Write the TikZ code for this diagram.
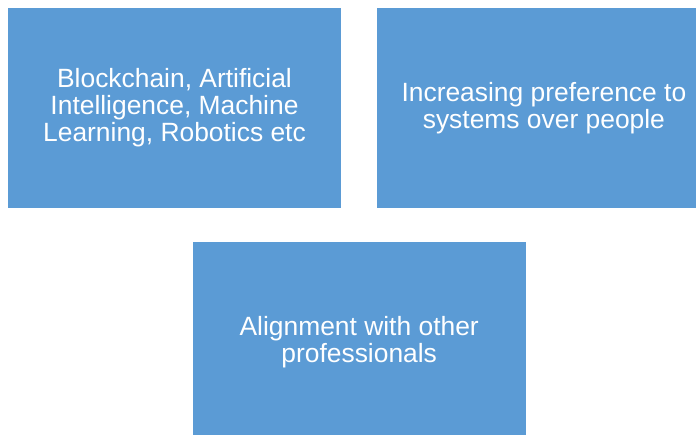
\documentclass[tikz,border=0pt]{standalone}
\usepackage{fontspec}
\setmainfont{Liberation Sans}
\usetikzlibrary{positioning,calc}
\definecolor{boxblue}{HTML}{5B9BD5}
\tikzstyle{block} = [rectangle, fill=boxblue, text=white, text centered, align=center, minimum width=333pt, minimum height=200pt, inner sep=0pt, font=\fontsize{26.4}{27}\selectfont]

\begin{document}
\begin{tikzpicture}
        \useasboundingbox (0pt,0pt) rectangle (696pt,-435pt);
        \clip (0pt,0pt) rectangle (696pt,-435pt);
        \node (tech) [block] at (174.5pt,-108pt) {Blockchain, Artificial\\Intelligence, Machine\\Learning, Robotics etc};
        \node (pref) [block, right = 36pt of tech] {Increasing preference to\\systems over people};
        \node (align) [block, anchor=north, yshift=-34pt] at ($(tech.south)!0.5!(pref.south)$) {Alignment with other\\professionals};
    \end{tikzpicture}
\end{document}
